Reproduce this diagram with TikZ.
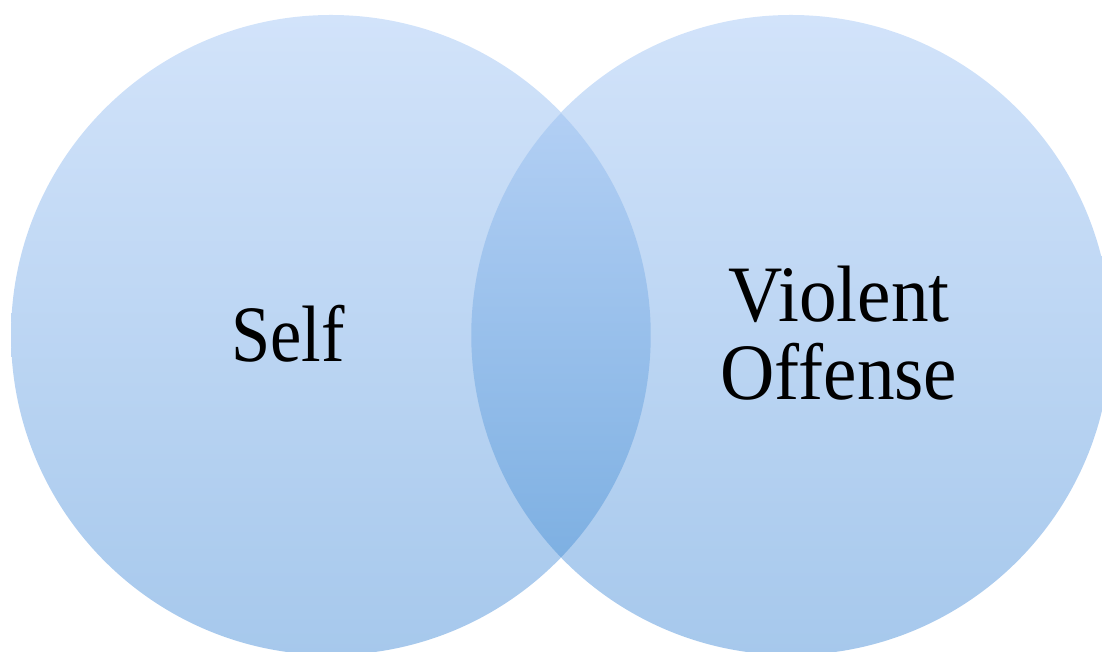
\documentclass[tikz,border=0pt]{standalone}
\usepackage{fontspec}
\setmainfont{Liberation Serif}
\definecolor{circTop}{HTML}{D2E3FA}
\definecolor{circBot}{HTML}{A6C8EC}
\definecolor{lensTop}{HTML}{B2CFF4}
\definecolor{lensBot}{HTML}{7EB0E2}
\begin{document}
\begin{tikzpicture}[x=1pt,y=1pt,
  venn/.style={circle,draw=none,inner sep=0pt,minimum size=640pt,
    top color=circTop,bottom color=circBot},
  label/.style={font=\fontsize{80}{78}\selectfont,anchor=base,inner sep=0pt,align=center}]
  \useasboundingbox (0,0) rectangle (1102,652);
  \begin{scope}
    \clip (0,0) rectangle (1102,652);
    % the two sets
    \node[venn] (self) at (331,317) {};
    \node[venn] (offense) at (791,317) {};
    % their overlap
    \shade[top color=lensTop,bottom color=lensBot]
      (561,539) arc[start angle=43.985,end angle=-43.985,radius=320]
      arc[start angle=223.985,end angle=136.015,radius=320] -- cycle;
  \end{scope}
  \node[label,xscale=0.88] (selfText) at (288,290) {Self};
  \node[label,xscale=0.94] (violentText) at (839,330) {Violent};
  \node[label,xscale=0.94] (offenseText) at (839,252) {Offense};
\end{tikzpicture}
\end{document}
